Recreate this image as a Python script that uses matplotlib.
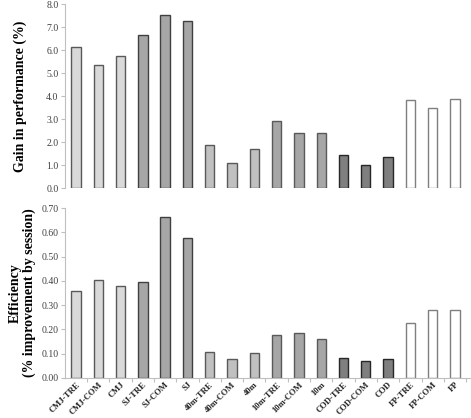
import numpy as np
import matplotlib
matplotlib.use("Agg")
import matplotlib.pyplot as plt

categorias = ['CMJ-TRE', 'CMJ-COM', 'CMJ', 'SJ-TRE', 'SJ-COM', 'SJ',
              '40m-TRE', '40m-COM', '40m', '10m-TRE', '10m-COM', '10m',
              'COD-TRE', 'COD-COM', 'COD', 'FP-TRE', 'FP-COM', 'FP']
ganho = [6.13, 5.36, 5.75, 6.67, 7.53, 7.25,
         1.88, 1.10, 1.68, 2.93, 2.38, 2.40,
         1.45, 1.01, 1.34, 3.83, 3.47, 3.86]
eficiencia = [0.358, 0.405, 0.381, 0.396, 0.665, 0.575,
              0.109, 0.079, 0.101, 0.179, 0.185, 0.162,
              0.082, 0.068, 0.078, 0.226, 0.281, 0.279]

cores_grupo = ['#d9d9d9', '#a6a6a6', '#c0c0c0', '#a6a6a6', '#7f7f7f', '#ffffff']
bordas_grupo = ['#595959', '#404040', '#595959', '#595959', '#262626', '#7f7f7f']
cores = [c for c in cores_grupo for _ in range(3)]
bordas = [b for b in bordas_grupo for _ in range(3)]

plt.rcParams['font.family'] = ['Liberation Serif', 'DejaVu Serif']

fig = plt.figure(figsize=(4.71, 4.18), dpi=100)
ax1 = fig.add_axes([0.139, 0.550, 0.861, 0.440])
ax2 = fig.add_axes([0.139, 0.0957, 0.861, 0.4063])

x = np.arange(len(categorias))
largura = 0.42

ax1.bar(x, ganho, width=largura, color=cores, edgecolor=bordas, linewidth=1.0)
ax2.bar(x, eficiencia, width=largura, color=cores, edgecolor=bordas, linewidth=1.0)

for ax in (ax1, ax2):
    ax.set_xlim(-0.47, 17.72)
    for s in ['top', 'right']:
        ax.spines[s].set_visible(False)
    ax.spines['left'].set_color('#bfbfbf')
    ax.tick_params(axis='y', labelsize=7, colors='#404040', length=3,
                   width=0.8, color='#bfbfbf', pad=2)

ax1.set_ylim(0, 8)
ax1.set_yticks(np.arange(0, 8.1, 1.0))
ax1.set_yticklabels(['%.1f' % v for v in np.arange(0, 8.1, 1.0)])
ax1.spines['bottom'].set_visible(False)
ax1.set_xticks([])
ax1.set_ylabel('Gain in performance (%)', fontsize=10, fontweight='bold', labelpad=14)

ax2.set_ylim(0, 0.70)
ax2.set_yticks(np.arange(0, 0.71, 0.1))
ax2.set_yticklabels(['%.2f' % v for v in np.arange(0, 0.71, 0.1)])
ax2.spines['bottom'].set_color('#bfbfbf')
ax2.set_xticks(x)
ax2.set_xticklabels(categorias, rotation=45, ha='right', rotation_mode='anchor',
                    fontsize=6.2, fontweight='bold', color='#262626')
ax2.tick_params(axis='x', length=0, pad=2)
ax2.set_xticks(np.arange(0.5, 17.6, 1.0), minor=True)
ax2.tick_params(axis='x', which='minor', length=3, width=0.8, color='#bfbfbf')
ax2.set_ylabel('Efficiency\n(% improvement by session)', fontsize=10,
               fontweight='bold', labelpad=4, linespacing=1.0)

fig.savefig('out.png', dpi=100)
